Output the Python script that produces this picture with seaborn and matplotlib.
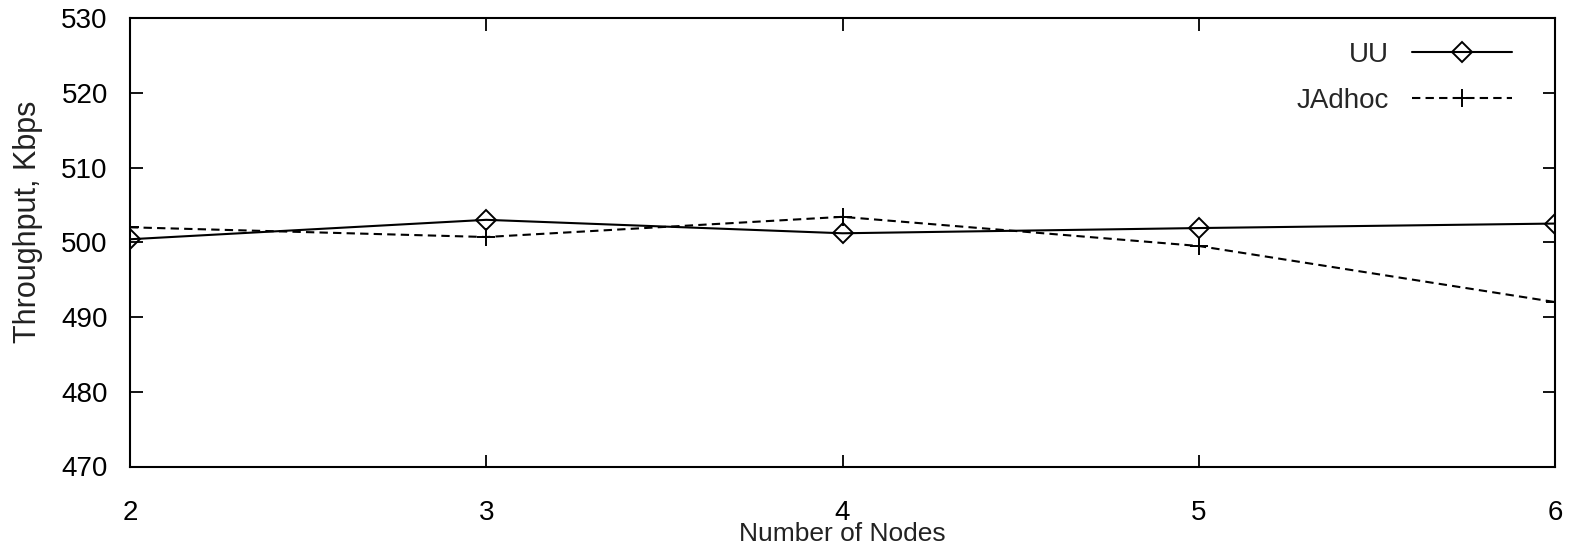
import matplotlib
matplotlib.use("Agg")
import matplotlib.pyplot as plt
import seaborn as sns
import pandas as pd

nodes = [2, 3, 4, 5, 6]
uu = [500.4, 503.0, 501.2, 501.9, 502.5]
jadhoc = [502.0, 500.7, 503.4, 499.5, 492.0]
series_names = ["UU", "JAdhoc"]
yticks = [470, 480, 490, 500, 510, 520, 530]

df_uu = pd.DataFrame({"Number of Nodes": nodes, "Throughput": uu})
df_ja = pd.DataFrame({"Number of Nodes": nodes, "Throughput": jadhoc})

sns.set_theme(style="white")
plt.rcParams['font.family'] = ['Liberation Sans', 'DejaVu Sans']

fig = plt.figure(figsize=(15.7, 5.47), dpi=100)
ax = fig.add_axes([130/1570, 1-466.5/547, (1555-130)/1570, (466.5-18)/547])

sns.lineplot(data=df_uu, x="Number of Nodes", y="Throughput", color="black",
             marker="D", markersize=10, markerfacecolor="none", markeredgecolor="black",
             markeredgewidth=1.4, linewidth=1.5, label=series_names[0], ax=ax)
sns.lineplot(data=df_ja, x="Number of Nodes", y="Throughput", color="black",
             marker="+", markersize=13, markeredgecolor="black",
             markeredgewidth=1.4, linewidth=1.5, linestyle=(0, (4, 2.5)),
             label=series_names[1], ax=ax)

ax.set_xlim(2, 6)
ax.set_ylim(470, 530)
ax.set_xticks(nodes)
ax.set_yticks(yticks)
ax.tick_params(direction="in", length=9, width=1.3, top=True, right=True,
               bottom=True, left=True, labelsize=20, colors="black")
ax.tick_params(axis="y", pad=16)
ax.tick_params(axis="x", pad=24)
for sp in ax.spines.values():
    sp.set_visible(True)
    sp.set_color("black")
    sp.set_linewidth(1.5)

ax.set_xlabel("Number of Nodes", fontsize=19, labelpad=-3, color="#222222")
ax.set_ylabel("Throughput, Kbps", fontsize=22, color="#222222")
ax.yaxis.set_label_coords(-0.061, 0.545)

handles, labels = ax.get_legend_handles_labels()
leg = ax.legend(handles, labels, loc="upper right", bbox_to_anchor=(0.970, 0.947),
                frameon=False, markerfirst=False, fontsize=20, handlelength=3.6,
                handletextpad=0.85, labelspacing=0.72, borderpad=0, borderaxespad=0)

fig.savefig("out.png", dpi=100)
